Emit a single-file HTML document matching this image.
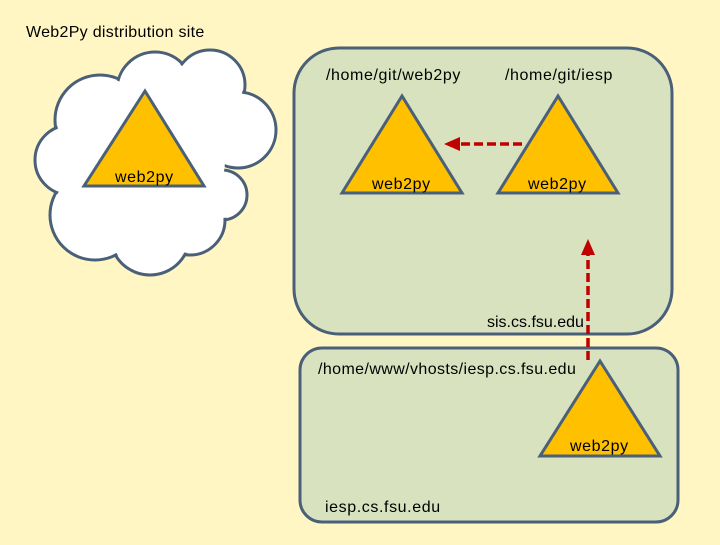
<!DOCTYPE html>
<html><head><meta charset="utf-8"><style>
body{margin:0;width:720px;height:540px;background:#fff6c4;overflow:hidden}
text{font-family:"Liberation Sans",sans-serif;font-size:16px;letter-spacing:0.6px;fill:#000}
</style></head><body>
<svg width="720" height="540" viewBox="0 0 720 540" xmlns="http://www.w3.org/2000/svg">
<rect width="720" height="540" fill="#fff6c4"/>
<text x="26" y="37" style="letter-spacing:0.3px">Web2Py distribution site</text>
<g stroke="#4a6078" stroke-width="3" fill="#fff">
<circle cx="100" cy="120" r="45"/>
<circle cx="155" cy="90" r="38"/>
<circle cx="210" cy="85" r="35"/>
<circle cx="238" cy="130" r="38"/>
<circle cx="222" cy="195" r="25"/>
<circle cx="190" cy="220" r="35"/>
<circle cx="150" cy="235" r="40"/>
<circle cx="95" cy="215" r="45"/>
<circle cx="70" cy="160" r="35"/>
</g>
<g fill="#fff">
<circle cx="100" cy="120" r="43"/>
<circle cx="155" cy="90" r="36"/>
<circle cx="210" cy="85" r="33"/>
<circle cx="238" cy="130" r="36"/>
<circle cx="222" cy="195" r="23"/>
<circle cx="190" cy="220" r="33"/>
<circle cx="150" cy="235" r="38"/>
<circle cx="95" cy="215" r="43"/>
<circle cx="70" cy="160" r="33"/>
<circle cx="155" cy="160" r="70"/>
</g>
<rect x="294" y="48" width="378" height="286" rx="45" fill="#d8e2bf" stroke="#4a6078" stroke-width="3"/>
<rect x="300" y="348" width="378" height="174" rx="22" fill="#d8e2bf" stroke="#4a6078" stroke-width="3"/>
<g fill="#ffc000" stroke="#4a6078" stroke-width="3" stroke-linejoin="miter">
<polygon points="145,91 84,186 204,186"/>
<polygon points="402,96 342,193 462,193"/>
<polygon points="558,96 498,193 618,193"/>
<polygon points="600,361 540,456 660,456"/>
</g>
<text x="115" y="182">web2py</text>
<text x="372" y="189">web2py</text>
<text x="528" y="189">web2py</text>
<text x="570" y="451">web2py</text>
<text x="326" y="80">/home/git/web2py</text>
<text x="505" y="80">/home/git/iesp</text>
<text x="487" y="327" style="letter-spacing:0px">sis.cs.fsu.edu</text>
<text x="318" y="374" style="letter-spacing:0.4px">/home/www/vhosts/iesp.cs.fsu.edu</text>
<text x="325" y="512">iesp.cs.fsu.edu</text>
<g stroke="#c00000" stroke-width="3.5" stroke-dasharray="9,4" fill="none">
<line x1="522" y1="144" x2="458" y2="144"/>
<line x1="588" y1="360" x2="588" y2="252"/>
</g>
<polygon points="444,144 460,137 460,151" fill="#c00000"/>
<polygon points="588,239 581,255 595,255" fill="#c00000"/>
</svg>
</body></html>
